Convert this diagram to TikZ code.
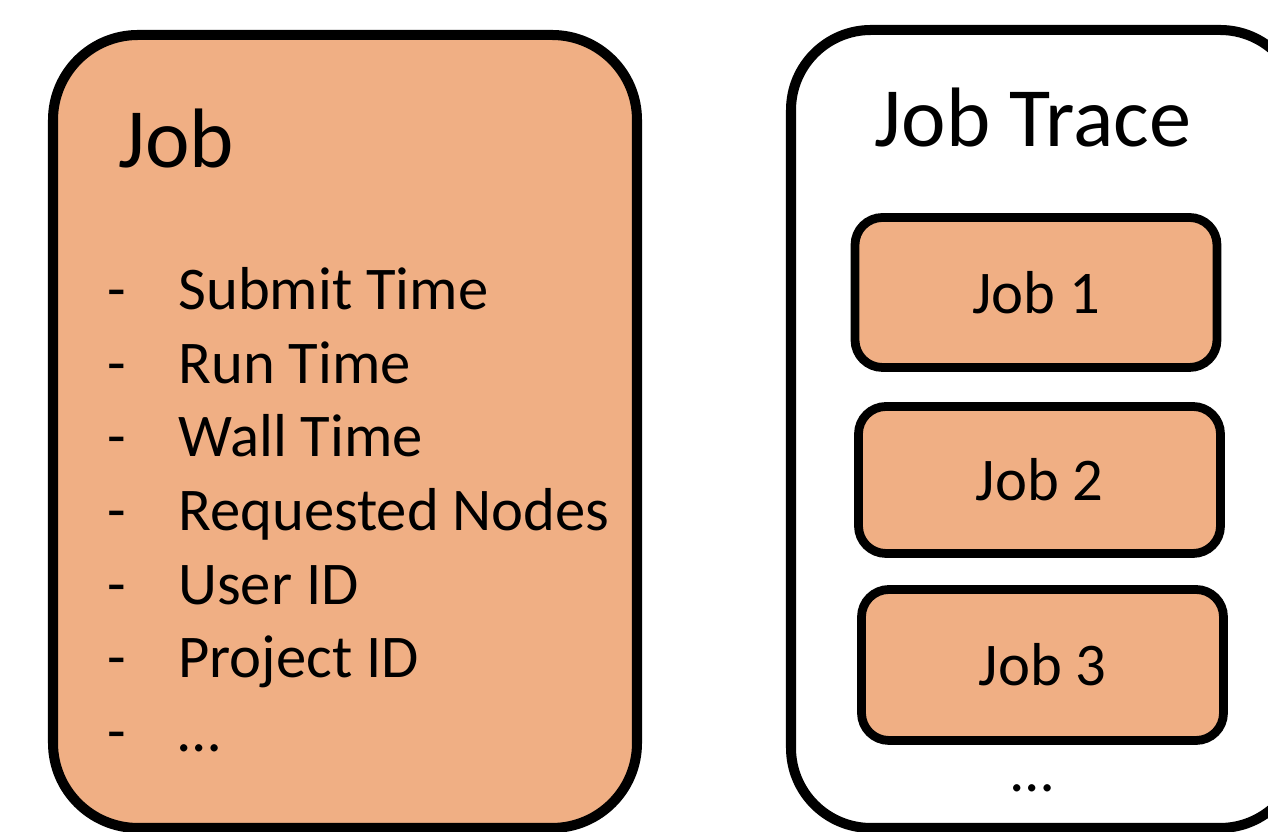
\documentclass[tikz,border=0pt]{standalone}
\usepackage{fontspec}
\setmainfont{Carlito}
\usepackage{tikz}
\definecolor{jobfill}{HTML}{F0AF84}

\begin{document}
\begin{tikzpicture}[x=1cm, y=1cm,
  bigbox/.style={draw, line width=5.7pt, inner sep=0pt},
  jobbox/.style={draw, fill=jobfill, line width=5pt, rounded corners=0.55cm,
    minimum width=7.24cm, minimum height=3cm, inner sep=0pt,
    font=\fontsize{34.5}{41}\selectfont},
  titletext/.style={font=\fontsize{48}{58}\selectfont, inner sep=0pt},
  itemtext/.style={font=\fontsize{34.5}{41}\selectfont, inner sep=0pt, anchor=base west}]
  \useasboundingbox (0,0) rectangle (25.36,16.64);
  % the two frames
  \node[bigbox, fill=jobfill, rounded corners=1.7cm, minimum width=11.68cm, minimum height=15.86cm] (job) at (6.9,8.01) {};
  \node[bigbox, fill=white, rounded corners=1.6cm, minimum width=10.18cm, minimum height=15.96cm] (trace) at (20.91,8.06) {};
  % titles
  \node[titletext, anchor=base west] (jobtitle) at (2.36,13.28) {Job};
  \node[titletext, anchor=base] (tracetitle) at (20.66,13.7) {Job Trace};
  % fields of a job
  \foreach \field [count=\i from 0] in {Submit Time, Run Time, Wall Time, Requested Nodes, User ID, Project ID, …} {
    \node[itemtext] (dash\i) at (2.14,10.45-1.474*\i) {-};
    \node[itemtext] (field\i) at (3.56,10.45-1.474*\i) {\field};
  }
  % jobs in the trace
  \node[jobbox] (job1) at (20.72,10.79) {Job 1};
  \node[jobbox, minimum height=2.94cm] (job2) at (20.79,7.04) {Job 2};
  \node[jobbox, minimum height=3.02cm] (job3) at (20.85,3.34) {Job 3};
  \node[itemtext, anchor=base] (more) at (20.64,0.8) {…};
\end{tikzpicture}
\end{document}
